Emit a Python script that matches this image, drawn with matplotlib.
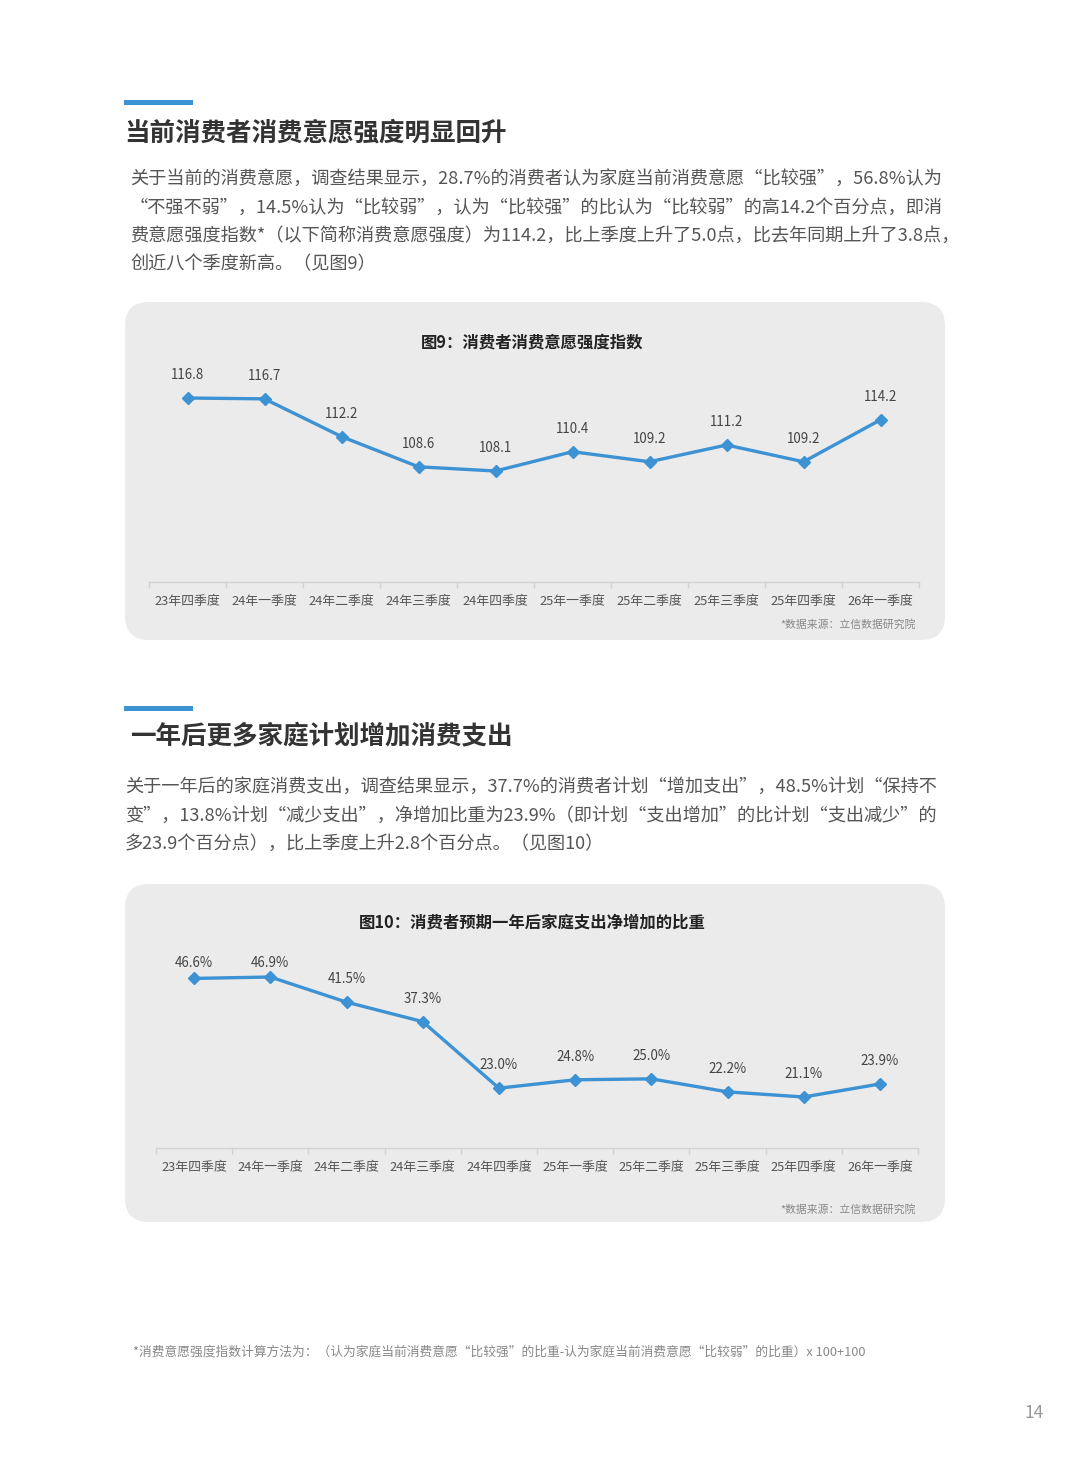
import matplotlib
matplotlib.use("Agg")
import matplotlib.pyplot as plt
from matplotlib.patches import FancyBboxPatch, Rectangle

plt.rcParams['font.family'] = ['Noto Sans CJK SC', 'DejaVu Sans']

# data
quarters = ['23年四季度', '24年一季度', '24年二季度', '24年三季度', '24年四季度',
            '25年一季度', '25年二季度', '25年三季度', '25年四季度', '26年一季度']
intent_index = [116.8, 116.7, 112.2, 108.6, 108.1, 110.4, 109.2, 111.2, 109.2, 114.2]
net_increase = [46.6, 46.9, 41.5, 37.3, 23.0, 24.8, 25.0, 22.2, 21.1, 23.9]

title1 = '当前消费者消费意愿强度明显回升'
para1 = ['关于当前的消费意愿，调查结果显示，28.7%的消费者认为家庭当前消费意愿“比较强”，56.8%认为',
         '“不强不弱”，14.5%认为“比较弱”，认为“比较强”的比认为“比较弱”的高14.2个百分点，即消',
         '费意愿强度指数*（以下简称消费意愿强度）为114.2，比上季度上升了5.0点，比去年同期上升了3.8点，',
         '创近八个季度新高。（见图9）']
chart1_title = '图9：消费者消费意愿强度指数'

title2 = '一年后更多家庭计划增加消费支出'
para2 = ['关于一年后的家庭消费支出，调查结果显示，37.7%的消费者计划“增加支出”，48.5%计划“保持不',
         '变”，13.8%计划“减少支出”，净增加比重为23.9%（即计划“支出增加”的比计划“支出减少”的',
         '多23.9个百分点），比上季度上升2.8个百分点。（见图10）']
chart2_title = '图10：消费者预期一年后家庭支出净增加的比重'

source = '*数据来源：立信数据研究院'
footnote = '*消费意愿强度指数计算方法为：（认为家庭当前消费意愿“比较强”的比重-认为家庭当前消费意愿“比较弱”的比重）x 100+100'
page_no = '14'

W, H = 1080, 1459
BLUE = '#3d92d4'
CARD = '#ebebeb'

fig = plt.figure(figsize=(W / 100, H / 100), dpi=100)
fig.patch.set_facecolor('white')

# background layer in pixel coords
bg = fig.add_axes([0, 0, 1, 1], zorder=0)
bg.set_xlim(0, W)
bg.set_ylim(H, 0)
bg.axis('off')


def section(y_bar, y_title, x_title, title, lines, x_par, y_par):
    bg.add_patch(Rectangle((124, y_bar), 69, 5, color=BLUE, lw=0))
    bg.text(x_title, y_title, title, fontsize=18.4, fontweight='bold', color='#333333',
            va='center', ha='left')
    for k, ln in enumerate(lines):
        bg.text(x_par, y_par + k * 28, ln, fontsize=13.1, color='#555555',
                va='center', ha='left')


def card(y0, y1, ctitle, ytitle, ysrc):
    bg.add_patch(FancyBboxPatch((125, y0), 820, y1 - y0,
                                boxstyle='round,pad=0,rounding_size=24',
                                fc=CARD, ec='none'))
    bg.text(532, ytitle, ctitle, fontsize=11.8, fontweight='bold', color='#222222',
            ha='center', va='center')
    bg.text(916, ysrc, source, fontsize=7.8, color='#888888', ha='right', va='center')


def line_chart(x0, x1, ytop, ybot, ylim, values, fmt, label_top):
    ax = fig.add_axes([x0 / W, 1 - ybot / H, (x1 - x0) / W, (ybot - ytop) / H], zorder=2)
    ax.patch.set_alpha(0)
    xs = list(range(len(values)))
    ax.set_xlim(-0.5, len(values) - 0.5)
    ax.set_ylim(*ylim)
    ax.plot(xs, values, color=BLUE, lw=2.4, marker='D', ms=6, mfc=BLUE, mec=BLUE,
            solid_joinstyle='round', zorder=3)
    for s in ['top', 'left', 'right']:
        ax.spines[s].set_visible(False)
    ax.spines['bottom'].set_color('#d2d2d2')
    ax.spines['bottom'].set_linewidth(1)
    ax.set_yticks([])
    ax.set_xticks(xs)
    ax.set_xticklabels(quarters, fontsize=9.3, color='#555555')
    ax.set_xticks([i - 0.5 for i in range(len(values) + 1)], minor=True)
    ax.tick_params(axis='x', which='major', length=0, pad=9)
    ax.tick_params(axis='x', which='minor', length=4, color='#d2d2d2', width=1)
    for i, v in enumerate(values):
        py = H - ax.transData.transform((i, v))[1]
        ly = max(py - 23, label_top)
        ax.annotate(fmt.format(v), (i, v), xytext=(0, (py - ly) * 0.72),
                    textcoords='offset points', ha='center', va='center',
                    fontsize=9.6, color='#444444', zorder=4)
    return ax


# section 1
section(100, 133, 124, title1, para1, 130, 180)
card(302, 640, chart1_title, 342, 624)
line_chart(149, 919, 360, 582, (94.87, 121.33), intent_index, '{:.1f}', 360)

# section 2
section(706, 737, 130, title2, para2, 125, 788)
card(884, 1222, chart2_title, 922, 1209)
line_chart(156, 918, 950, 1148, (10.13, 52.71), net_increase, '{:.1f}%', 963)

bg.text(133, 1352, footnote, fontsize=9.2, color='#888888', ha='left', va='center')
bg.text(1044, 1413, page_no, fontsize=12.5, color='#999999', ha='right', va='center')

fig.savefig('out.png', dpi=100, facecolor='white')
